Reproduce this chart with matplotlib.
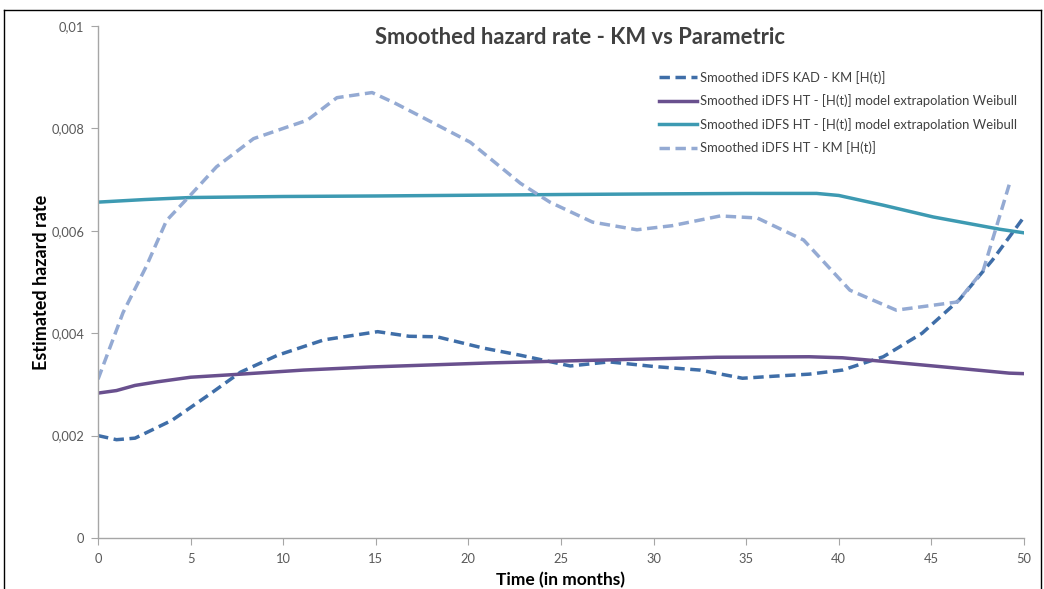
import matplotlib
matplotlib.use("Agg")
import matplotlib.pyplot as plt
from matplotlib.lines import Line2D
from matplotlib.ticker import FuncFormatter, MultipleLocator

# data (months, hazard rate)
kad_km_t = [0, 1, 2, 4, 6, 7.7, 9.7, 12.2, 15.1, 16.8, 18.3, 20.8, 22.8, 25.5,
            27.6, 30, 32.5, 34.8, 36.5, 38.4, 40.2, 42.4, 44.5, 46.5, 48.3, 50]
kad_km = [0.0020, 0.00192, 0.00195, 0.0023, 0.0028, 0.00324, 0.00357, 0.00387,
          0.00403, 0.00394, 0.00393, 0.00371, 0.00357, 0.00336, 0.00344, 0.00335,
          0.00328, 0.00312, 0.00316, 0.0032, 0.00328, 0.00354, 0.0040, 0.00465,
          0.00543, 0.00627]

ht_weib_purple_t = [0, 1, 2, 3.2, 5, 7.7, 11.1, 14.7, 21.2, 25.5, 30, 33.4, 38.4,
                    40.2, 42.4, 46, 49.2, 50]
ht_weib_purple = [0.00283, 0.00288, 0.00298, 0.00305, 0.00314, 0.0032, 0.00328,
                  0.00334, 0.00342, 0.00346, 0.0035, 0.00353, 0.00354, 0.00352,
                  0.00345, 0.00333, 0.00322, 0.00321]

ht_weib_teal_t = [0, 2.5, 5, 10, 15, 25.5, 30, 35, 38.8, 40, 42.4, 45.1, 48.7, 50]
ht_weib_teal = [0.00656, 0.00661, 0.00665, 0.00667, 0.00668, 0.00671, 0.00672,
                0.00673, 0.00673, 0.00669, 0.0065, 0.00627, 0.00603, 0.00596]

ht_km_t = [0, 1.35, 2.6, 3.7, 5, 6.4, 8.4, 10, 11.3, 12.9, 14.8, 16, 17.5, 20.1,
           22.8, 24.4, 26.7, 29.1, 31, 33.6, 35.6, 38.1, 40.6, 43.1, 46.4, 47.8, 49.2]
ht_km = [0.0031, 0.0044, 0.0053, 0.0062, 0.0067, 0.00725, 0.0078, 0.0080, 0.00816,
         0.0086, 0.0087, 0.0085, 0.00822, 0.00773, 0.00693, 0.00656, 0.00617,
         0.00602, 0.0061, 0.00629, 0.00625, 0.00582, 0.00484, 0.00445, 0.00461,
         0.00523, 0.0069]

labels = ["Smoothed iDFS KAD - KM [H(t)]",
          "Smoothed iDFS HT - [H(t)] model extrapolation Weibull",
          "Smoothed iDFS HT - [H(t)] model extrapolation Weibull",
          "Smoothed iDFS HT - KM [H(t)]"]

plt.rcParams['font.family'] = ['Lato', 'DejaVu Sans']

fig = plt.figure(figsize=(10.44, 5.89), dpi=100)
ax = fig.add_axes([98 / 1044, 51 / 589, 926 / 1044, 512 / 589])

ax.plot(kad_km_t, kad_km, color='#3f6ea8', lw=2.5, ls=(0, (3, 1.6)),
        label=labels[0], solid_joinstyle='round')
ax.plot(ht_weib_purple_t, ht_weib_purple, color='#69508e', lw=2.5,
        label=labels[1], solid_joinstyle='round')
ax.plot(ht_weib_teal_t, ht_weib_teal, color='#3d9ab2', lw=2.5,
        label=labels[2], solid_joinstyle='round')
ax.plot(ht_km_t, ht_km, color='#94aad3', lw=2.5, ls=(0, (3, 1.6)),
        label=labels[3], solid_joinstyle='round')

ax.set_xlim(0, 50)
ax.set_ylim(0, 0.01)
ax.xaxis.set_major_locator(MultipleLocator(5))
ax.yaxis.set_major_locator(MultipleLocator(0.002))
ax.yaxis.set_major_formatter(FuncFormatter(
    lambda v, p: '0' if v == 0 else ('%g' % round(v, 4)).replace('.', ',')))

for s in ['top', 'right']:
    ax.spines[s].set_visible(False)
for s in ['left', 'bottom']:
    ax.spines[s].set_color('#a6a6a6')
    ax.spines[s].set_linewidth(1.0)
ax.tick_params(axis='both', colors='#a6a6a6', labelcolor='#595959',
               labelsize=9.3, length=5, direction='out')
ax.tick_params(axis='x', pad=6)
ax.tick_params(axis='y', pad=5)

ax.set_xlabel('Time (in months)', fontsize=12.5, fontweight='bold', labelpad=5)
ax.set_ylabel('Estimated hazard rate', fontsize=13, fontweight='bold')
ax.yaxis.set_label_coords(-(98 - 50) / 926, 0.5)

fig.text(580 / 1044, 1 - 37 / 589, 'Smoothed hazard rate - KM vs Parametric',
         ha='center', va='center', fontsize=15.8, fontweight='bold', color='#404040')

ax.legend(loc='upper left', bbox_to_anchor=(0.593, 0.935), frameon=False,
          fontsize=9.4, handlelength=2.9, handletextpad=0.25, labelspacing=0.8,
          labelcolor='#404040')

# outer frame of the screenshot
fig.add_artist(Line2D([4 / 1044, 4 / 1044], [0, 1 - 10 / 589], color='black', lw=1))
fig.add_artist(Line2D([4 / 1044, 1041 / 1044], [1 - 10 / 589, 1 - 10 / 589], color='black', lw=1))
fig.add_artist(Line2D([1041 / 1044, 1041 / 1044], [0, 1 - 10 / 589], color='black', lw=1))

plt.savefig('out.png', dpi=100)
plt.close()
